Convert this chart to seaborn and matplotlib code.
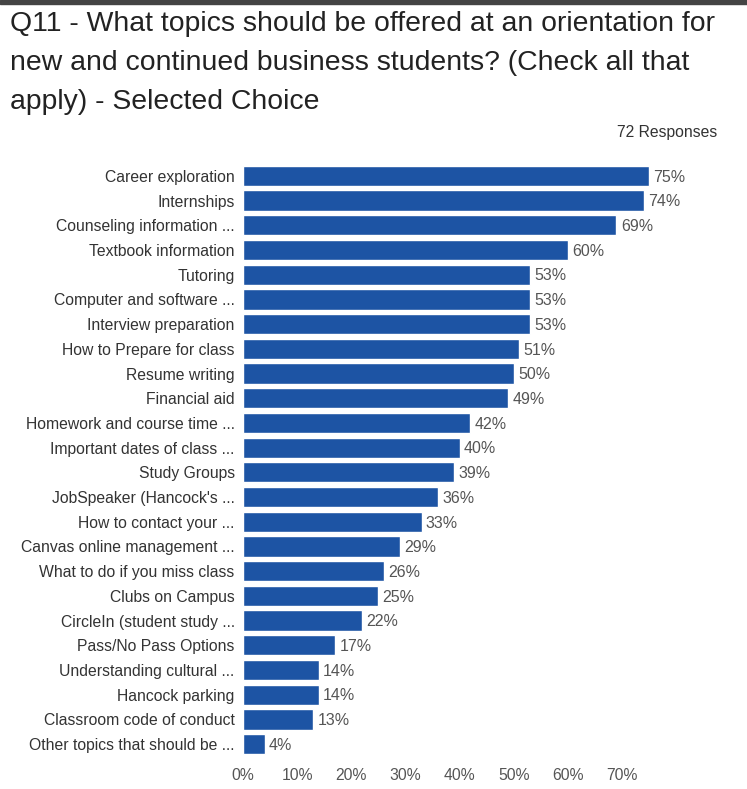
import seaborn as sns
import matplotlib.pyplot as plt
import pandas as pd

topics = [
    "Career exploration", "Internships", "Counseling information ...",
    "Textbook information", "Tutoring", "Computer and software ...",
    "Interview preparation", "How to Prepare for class", "Resume writing",
    "Financial aid", "Homework and course time ...", "Important dates of class ...",
    "Study Groups", "JobSpeaker (Hancock's ...", "How to contact your ...",
    "Canvas online management ...", "What to do if you miss class",
    "Clubs on Campus", "CircleIn (student study ...", "Pass/No Pass Options",
    "Understanding cultural ...", "Hancock parking",
    "Classroom code of conduct", "Other topics that should be ...",
]
percent = [75, 74, 69, 60, 53, 53, 53, 51, 50, 49, 42, 40, 39, 36, 33, 29,
           26, 25, 22, 17, 14, 14, 13, 4]
x_ticks = [0, 10, 20, 30, 40, 50, 60, 70]

df = pd.DataFrame({"topic": topics, "pct": percent})

sns.set_theme(style="white")
plt.rcParams["font.family"] = ["Liberation Sans", "DejaVu Sans"]

fig = plt.figure(figsize=(7.47, 7.89), dpi=100)
ax = fig.add_axes([243 / 747, 1 - 756.5 / 789, 433 / 747, (756.5 - 163.5) / 789])

sns.barplot(data=df, x="pct", y="topic", color="#1d54a4", saturation=1,
            width=0.82, ax=ax)

for i, v in enumerate(percent):
    ax.text(v + 0.8, i + 0.05, f"{v}%", va="center", ha="left", fontsize=11.5,
            color="#555555")

ax.set_xlim(0, 80)
ax.set_xticks(x_ticks)
ax.set_xticklabels([f"{t}%" for t in x_ticks], fontsize=11.3, color="#555555")
ax.tick_params(axis="y", labelsize=11.3, labelcolor="#333333", length=0, pad=6)
ax.tick_params(axis="x", length=0, pad=8)
ax.set_xlabel("")
ax.set_ylabel("")
sns.despine(ax=ax, left=True, bottom=True)

fig.text(10 / 747, 1 - 11 / 789,
         "Q11 - What topics should be offered at an orientation for\n"
         "new and continued business students? (Check all that\n"
         "apply) - Selected Choice",
         ha="left", va="top", fontsize=20.4, color="#222222", linespacing=1.66)
fig.text(717 / 747, 1 - 133 / 789, "72 Responses", ha="right", va="center",
         fontsize=11.3, color="#333333")

fig.patches.append(plt.Rectangle((0, 1 - 4 / 789), 1, 4 / 789,
                                 transform=fig.transFigure, color="#444444"))

fig.savefig("out.png", dpi=100)
